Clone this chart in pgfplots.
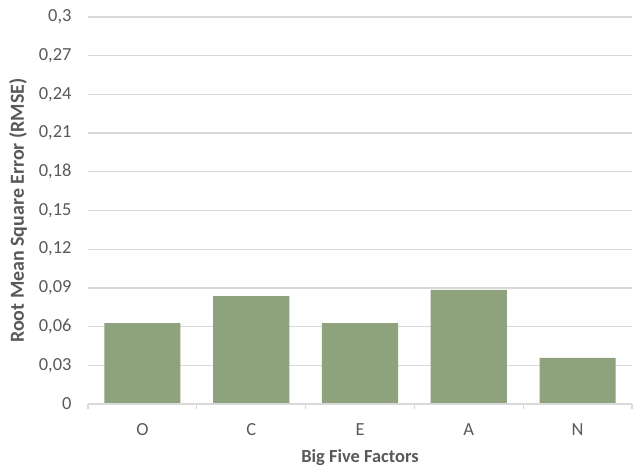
\documentclass[border=0pt]{standalone}
\usepackage{pgfplots}
\pgfplotsset{compat=1.18}
\usepackage{fontspec}
\setmainfont{Carlito}
\definecolor{barfill}{HTML}{8EA27E}
\definecolor{gridgray}{HTML}{D9D9D9}
\definecolor{txtgray}{HTML}{595959}
\begin{document}
\begin{tikzpicture}
\path (-88bp,-63bp) rectangle (549bp,404bp);
\begin{axis}[
  at={(0,0)}, anchor=south west,
  scale only axis,
  width=544bp, height=387bp,
  xmin=-0.5, xmax=4.5,
  ymin=0, ymax=0.3,
  ytick={0,0.03,...,0.31},
  xtick={0,1,2,3,4},
  xticklabels={O,C,E,A,N},
  minor xtick={-0.5,0.5,1.5,2.5,3.5,4.5},
  axis line style={draw=none},
  axis x line*=bottom,
  axis y line*=left,
  ymajorgrids,
  grid style={gridgray, line width=1.3bp},
  major tick length=0pt,
  minor tick length=5bp,
  minor tick style={gridgray, line width=1.3bp},
  xtick pos=bottom,
  xtick align=outside,
  ytick style={draw=none},
  tick label style={font=\fontsize{18.5}{20}\selectfont, text=txtgray},
  /pgf/number format/assume math mode=true,
  /pgf/number format/use comma,
  /pgf/number format/fixed,
  /pgf/number format/precision=2,
  yticklabel style={xshift=-13bp},
  xticklabel style={yshift=-16bp},
  xlabel={Big Five Factors},
  ylabel={Root Mean Square Error (RMSE)},
  xlabel style={font=\bfseries\fontsize{18.5}{20}\selectfont, text=txtgray, yshift=-7bp},
  ylabel style={font=\bfseries\fontsize{20}{22}\selectfont, text=txtgray, yshift=5bp},
  clip=false,
]
\addplot[ybar, bar width=0.7, fill=barfill, draw=none] coordinates {
  (0,0.0626) (1,0.0837) (2,0.0626) (3,0.0884) (4,0.0357)
};
\draw[gridgray, line width=1.3bp] (axis cs:-0.5,0) -- (axis cs:4.5,0);
\end{axis}
\end{tikzpicture}
\end{document}
